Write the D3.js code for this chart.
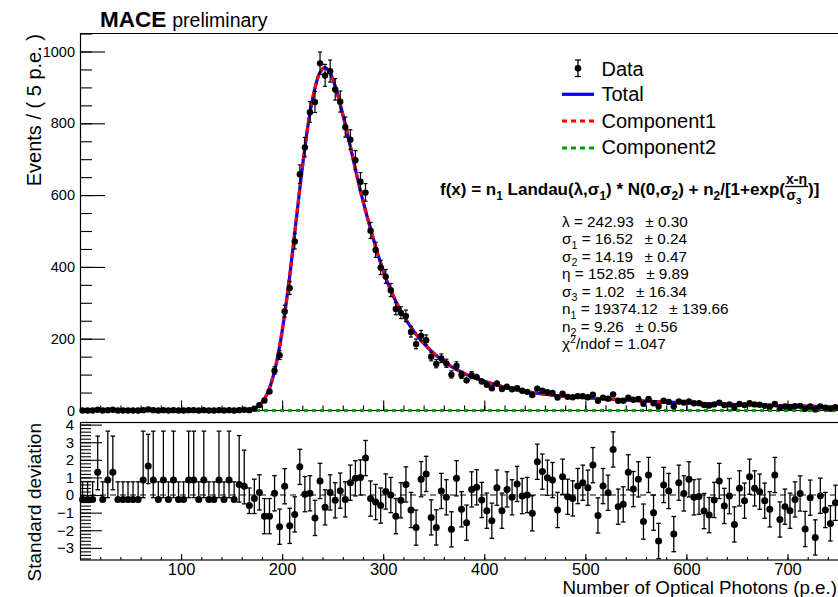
<!DOCTYPE html>
<html><head><meta charset="utf-8">
<script src="https://cdn.jsdelivr.net/npm/d3@7"></script>
<style>
body{margin:0;background:#fff}
svg{display:block}
text{font-family:"Liberation Sans",Arial,Helvetica,sans-serif;fill:#000}
</style>
</head><body>
<svg id="c" width="838" height="597"></svg>
<script>
// ---------------- DATA ----------------
const xMin = 0, xMax = 750, binWidth = 5;
const counts = [0,0,0,2,0,1,2,0,0,0,0,0,1,3,1,0,1,0,1,0,0,1,1,0,1,0,0,1,0,1,0,1,2,
 1,5,15,28,53,111,154,276,341,471,658,733,831,859,967,933,945,894,860,789,754,697,637,607,501,447,398,373,335,283,272,263,219,185,208,196,150,130,
 145,131,100,124,99,84,98,93,81,72,62,75,60,66,59,62,55,52,43,61,55,51,49,36,47,38,37,40,40,37,44,27,36,33,45,27,27,36,30,32,19,32,20,12,27,24,12,25,22,25,20,20,15,14,17,22,15,17,10,18,15,20,17,16,13,11,18,8,11,10,12,13,5,11,3,11,8,5,9];
const pulls = [-0.25,-0.25,-0.25,1.3,-0.25,0.85,1.3,-0.25,-0.25,-0.25,-0.25,-0.25,0.85,1.65,0.85,-0.25,0.85,-0.25,0.85,-0.25,-0.25,0.85,0.85,-0.25,0.85,-0.25,-0.25,0.85,-0.25,0.85,-0.25,0.6,0.5,
 -0.6,-0.2,0.15,-1.2,-1.2,0.1,-1.8,0.5,-1.75,-1.1,1.6,0.05,0.1,-1.3,0.8,-0.7,0.15,-0.3,0.25,-0.25,0.7,0.95,1.0,2.1,-0.2,-0.4,-0.6,0.2,0.0,-1.2,-0.3,0.6,-0.85,-1.85,0.9,1.2,
 -1.27,-1.84,0.23,-0.13,-1.95,0.95,-0.81,-1.57,0.32,0.44,-0.28,-0.89,-1.46,0.42,-0.89,0.32,-0.13,0.63,-0.06,0.0,-1.04,1.89,1.33,0.98,0.85,-0.85,1.04,-0.1,-0.19,0.51,0.70,0.42,1.70,-1.16,0.51,0.13,2.59,-0.66,-0.53,1.29,0.34,0.89,-1.51,1.14,-1.0,-2.61,0.57,0.23,-2.22,0.70,0.09,0.89,-0.13,-0.09,-0.91,-1.14,-0.28,0.80,-0.62,-0.06,-1.67,0.38,-0.32,1.04,0.38,0.19,-0.32,-0.81,1.14,-1.39,-0.66,-0.89,-0.25,0.09,-1.93,-0.15,-2.41,-0.04,-0.85,-1.61,-0.44];
// pull error bars of the low-count bins (the rest are +-1)
const pullErrLoLow = [0,0,0,1,0,1,1,0,0,0,0,0,1,1,1,0,1,0,1,0,0,1,1,0,1,0,0,1,0,1,0,1,1,0.45,0.85];
const pullErrHiLow = [1,1,1,2.05,1,2.78,2.05,1,1,1,1,1,2.78,1.8,2.78,1,2.78,1,2.78,1,1,2.78,2.78,1,2.78,1,1,2.78,1,2.78,1,2.78,2.05,1,1.1];
// fitted total curve, sampled [x, events]
const totalCurve = [[0,0.3],[150,0.3],[152.5,0.3],[157.5,0.6],[162.5,1.2],[167.5,2.5],[172.5,6],
 [177.5,15],[182.5,32],[187.5,62],[192.5,110],[197.5,178],[202.5,268],[207.5,375],[212.5,495],[217.5,618],[222.5,732],
 [227.5,828],[232.5,898],[237.5,942],[242.5,955],[247.5,940],[252.5,903],[257.5,853],[262.5,796],[267.5,735],[272.5,672],
 [277.5,612],[282.5,557],[287.5,505],[292.5,456],[297.5,410],[302.5,369],[307.5,335],[312.5,304],[317.5,277],[322.5,253],
 [327.5,232],[332.5,212],[337.5,195],[342.5,180],[347.5,166],[352.5,153],[357.5,142],[362.5,132],[367.5,122],[372.5,114],
 [377.5,107],[382.5,100],[387.5,95],[392.5,89],[397.5,84],[402.5,79.5],[407.5,75],[412.5,71],[417.5,67],[422.5,63.5],
 [427.5,60.5],[432.5,57.5],[437.5,55],[442.5,52.5],[447.5,50],[452.5,48],[457.5,46],[462.5,44.5],[467.5,43],[472.5,41.5],
 [477.5,40],[482.5,39],[487.5,38],[492.5,37],[497.5,36],[502.5,35],[525,31.5],[550,27.5],[575,24.2],[600,21.2],
 [625,18.8],[650,16.7],[675,14.7],[700,13.0],[725,11.7],[750,10.5]];
// component 2 (Fermi step), sampled [x, events]
const comp2Curve = [[0,0.3],[150,0.3],[152.5,0.15],[155,0],[750,0]];
const xTicks = [100,200,300,400,500,600,700];
const yTopTicks = [0,200,400,600,800,1000];
const yBotTicks = [-3,-2,-1,0,1,2,3,4];
const legendItems = ["Data","Total","Component1","Component2"];
// parameter lines: [text, kind]; "pm" marks the uncertainty part
const params = [
 [["λ",""],[" = 242.93",""],["± 0.30","pm"]],
 [["σ",""],["1","sub"],[" = 16.52",""],["± 0.24","pm"]],
 [["σ",""],["2","sub"],[" = 14.19",""],["± 0.47","pm"]],
 [["η",""],[" = 152.85",""],["± 9.89","pm"]],
 [["σ",""],["3","sub"],[" = 1.02",""],["± 16.34","pm"]],
 [["n",""],["1","sub"],[" = 19374.12",""],["± 139.66","pm"]],
 [["n",""],["2","sub"],[" = 9.26",""],["± 0.56","pm"]],
 [["χ",""],["2","sup"],["/ndof = 1.047",""]]
];

// ---------------- DRAW ----------------
const svg = d3.select("#c");
svg.append("rect").attr("width",838).attr("height",597).attr("fill","#fff");
const x = d3.scaleLinear().domain([xMin,xMax]).range([80,838]);
const yT = d3.scaleLinear().domain([0,1051.5]).range([410.5,33]);
const yB = d3.scaleLinear().domain([-3.69,4.12]).range([560,422.5]);
const centers = counts.map((_,i)=> xMin + binWidth*(i+0.5));
const FONT = '"Liberation Sans",Arial,Helvetica,sans-serif';

function styleAxis(g, fs){
  g.select(".domain").remove();
  g.selectAll(".tick line").attr("stroke","#000").attr("stroke-width",1.1);
  g.selectAll(".tick text").attr("font-size",fs).attr("font-family",FONT).attr("fill","#000");
}
// top panel axes
svg.append("g").attr("transform","translate(80,0)")
  .call(d3.axisLeft(yT).tickValues(d3.range(0,1051,50)).tickSize(-12).tickFormat(""))
  .call(g=>styleAxis(g,14));
svg.append("g").attr("transform","translate(80,0)")
  .call(d3.axisLeft(yT).tickValues(yTopTicks).tickSize(-25).tickPadding(5).tickFormat(d3.format("d")))
  .call(g=>styleAxis(g,14.5));
svg.append("g").attr("transform","translate(0,410.5)")
  .call(d3.axisBottom(x).tickValues(d3.range(20,750,20)).tickSize(-5).tickFormat(""))
  .call(g=>styleAxis(g,14));
svg.append("g").attr("transform","translate(0,410.5)")
  .call(d3.axisBottom(x).tickValues(xTicks).tickSize(-10).tickFormat(""))
  .call(g=>styleAxis(g,14));
svg.append("path").attr("d","M80.5,410.5V33.5H838").attr("fill","none").attr("stroke","#000").attr("stroke-width",1.2);
svg.append("line").attr("x1",80).attr("x2",838).attr("y1",410.5).attr("y2",410.5).attr("stroke","#000").attr("stroke-width",1.2);

// bottom panel axes
svg.append("g").attr("transform","translate(80,0)")
  .call(d3.axisLeft(yB).tickValues(d3.range(-3.6,4.11,0.2).map(v=>+v.toFixed(1))).tickSize(-11).tickFormat(""))
  .call(g=>styleAxis(g,14));
svg.append("g").attr("transform","translate(80,0)")
  .call(d3.axisLeft(yB).tickValues(yBotTicks).tickSize(-22).tickPadding(6).tickFormat(d=> d<0 ? "\u2212"+(-d) : d))
  .call(g=>styleAxis(g,15));
svg.append("g").attr("transform","translate(0,560)")
  .call(d3.axisBottom(x).tickValues(d3.range(20,750,20)).tickSize(-3).tickFormat(""))
  .call(g=>styleAxis(g,16));
svg.append("g").attr("transform","translate(0,560)")
  .call(d3.axisBottom(x).tickValues(xTicks).tickSize(-6).tickPadding(3).tickFormat(d3.format("d")))
  .call(g=>styleAxis(g,16.5));
svg.append("rect").attr("x",80.5).attr("y",422.5).attr("width",760).attr("height",137.5)
  .attr("fill","none").attr("stroke","#000").attr("stroke-width",1.2);
svg.append("line").attr("x1",80).attr("x2",838).attr("y1",yB(0)).attr("y2",yB(0))
  .attr("stroke","#000").attr("stroke-width",1.1).attr("stroke-dasharray","6,4");

// curves
const interp = (arr, xv) => {
  for (let i=1;i<arr.length;i++){ if (xv<=arr[i][0]) { const [x0,y0]=arr[i-1],[x1,y1]=arr[i]; return y0+(y1-y0)*(xv-x0)/(x1-x0);} }
  return arr[arr.length-1][1];
};
const comp1Curve = totalCurve.map(([cx,cy])=>[cx, Math.max(0, cy - interp(comp2Curve,cx))]);
const line = d3.line().x(d=>x(d[0])).y(d=>yT(d[1])).curve(d3.curveCatmullRom.alpha(0.5));
const lineLin = d3.line().x(d=>x(d[0])).y(d=>yT(d[1]));
svg.append("path").attr("d",line(totalCurve)).attr("fill","none").attr("stroke","#0000ff").attr("stroke-width",3.2);
svg.append("path").attr("d",line(comp1Curve)).attr("fill","none").attr("stroke","#ff0000").attr("stroke-width",3.2).attr("stroke-dasharray","5,4");
svg.append("path").attr("d",lineLin(comp2Curve)).attr("fill","none").attr("stroke","#00a000").attr("stroke-width",3).attr("stroke-dasharray","4,4");

// data points (top)
const dataG = svg.append("g");
counts.forEach((n,i)=>{
  const cx = x(centers[i]);
  const hi = n===0 ? 1.84 : Math.sqrt(n+0.25)+0.5;
  const lo = n===0 ? 0 : Math.sqrt(n+0.25)-0.5;
  const y1 = yT(n+hi), y0 = yT(n-lo);
  dataG.append("line").attr("x1",cx).attr("x2",cx).attr("y1",y1).attr("y2",y0).attr("stroke","#000").attr("stroke-width",1.2);
  if (y0-y1 > 7) {
    dataG.append("line").attr("x1",cx-2).attr("x2",cx+2).attr("y1",y1).attr("y2",y1).attr("stroke","#000").attr("stroke-width",1.2);
    dataG.append("line").attr("x1",cx-2).attr("x2",cx+2).attr("y1",y0).attr("y2",y0).attr("stroke","#000").attr("stroke-width",1.2);
  }
  dataG.append("circle").attr("cx",cx).attr("cy",yT(n)).attr("r",3.2).attr("fill","#000");
});

// pulls (bottom)
const pullG = svg.append("g");
pulls.forEach((p,i)=>{
  const cx = x(centers[i]);
  const lo = i<pullErrLoLow.length ? pullErrLoLow[i] : 1;
  const hi = i<pullErrHiLow.length ? pullErrHiLow[i] : 1;
  const y1 = yB(p+hi), y0 = yB(p-lo);
  pullG.append("line").attr("x1",cx).attr("x2",cx).attr("y1",y1).attr("y2",y0).attr("stroke","#000").attr("stroke-width",1.3);
  pullG.append("line").attr("x1",cx-2.3).attr("x2",cx+2.3).attr("y1",y1).attr("y2",y1).attr("stroke","#000").attr("stroke-width",1.3);
  if (lo>0) pullG.append("line").attr("x1",cx-2.3).attr("x2",cx+2.3).attr("y1",y0).attr("y2",y0).attr("stroke","#000").attr("stroke-width",1.3);
  pullG.append("circle").attr("cx",cx).attr("cy",yB(p)).attr("r",3.5).attr("fill","#000");
});

// title
const title = svg.append("text").attr("x",100).attr("y",27);
title.append("tspan").attr("font-weight","bold").attr("font-size",22.5).text("MACE");
title.append("tspan").attr("font-size",19.5).attr("dx",6).text("preliminary");

// axis titles
svg.append("text").attr("transform","translate(41,34) rotate(-90)").attr("text-anchor","end")
  .attr("font-size",20).text("Events / ( 5 p.e. )");
svg.append("text").attr("transform","translate(41,423) rotate(-90)").attr("text-anchor","end")
  .attr("font-size",19).text("Standard deviation");
svg.append("text").attr("x",837).attr("y",593.5).attr("text-anchor","end")
  .attr("font-size",18.8).text("Number of Optical Photons (p.e.)");

// legend
const lg = svg.append("g");
const legY = [68.3, 94.3, 121, 148];
const legBase = [75.7, 101.3, 127.7, 154.3];
lg.append("line").attr("x1",578).attr("x2",578).attr("y1",60).attr("y2",76.5).attr("stroke","#000").attr("stroke-width",1.3);
lg.append("line").attr("x1",575).attr("x2",581).attr("y1",60).attr("y2",60).attr("stroke","#000").attr("stroke-width",1.3);
lg.append("line").attr("x1",575).attr("x2",581).attr("y1",76.5).attr("y2",76.5).attr("stroke","#000").attr("stroke-width",1.3);
lg.append("circle").attr("cx",578).attr("cy",legY[0]).attr("r",3.3).attr("fill","#000");
lg.append("line").attr("x1",562).attr("x2",594).attr("y1",legY[1]).attr("y2",legY[1]).attr("stroke","#0000ff").attr("stroke-width",3.2);
lg.append("line").attr("x1",562).attr("x2",594).attr("y1",legY[2]).attr("y2",legY[2]).attr("stroke","#ff0000").attr("stroke-width",3.2).attr("stroke-dasharray","5,4");
lg.append("line").attr("x1",562).attr("x2",594).attr("y1",legY[3]).attr("y2",legY[3]).attr("stroke","#00a000").attr("stroke-width",3.2).attr("stroke-dasharray","5,4");
legendItems.forEach((t,i)=> lg.append("text").attr("x",601.5).attr("y",legBase[i]).attr("font-size",20).text(t));

// rich text: one <text> per line, tspans with absolute baselines
function richText(g, x0, y0, pieces, baseSize, weight){
  const t = g.append("text").attr("x",x0).attr("y",y0).attr("font-size",baseSize).attr("font-weight",weight);
  pieces.forEach(([s,kind])=>{
    const sp = t.append("tspan").text(s);
    if (kind==="sub") sp.attr("font-size",baseSize*0.7).attr("y",y0+baseSize*0.3);
    else if (kind==="sup") sp.attr("font-size",baseSize*0.7).attr("y",y0-baseSize*0.38);
    else sp.attr("y",y0);
    if (kind==="pm") sp.attr("dx",baseSize*0.75);
  });
  return t;
}
const fg = svg.append("g");
const fPieces = [["f(x) = n",""],["1","sub"],[" Landau(λ,σ",""],["1","sub"],[") * N(0,σ",""],["2","sub"],
  [") + n",""],["2","sub"],["/[1+exp(",""]];
const fMain = richText(fg, 440, 195, fPieces, 17, "bold");
const fx = 440 + fMain.node().getComputedTextLength();
const num = richText(fg, fx+1, 183.5, [["x-η",""]], 14, "bold");
const den = richText(fg, fx+1.5, 199.5, [["σ",""],["3","sub"]], 14, "bold");
const fracEnd = fx + Math.max(num.node().getComputedTextLength()+1, den.node().getComputedTextLength()+1.5) + 1;
fg.append("line").attr("x1",fx).attr("x2",fracEnd).attr("y1",186.5).attr("y2",186.5).attr("stroke","#000").attr("stroke-width",1.3);
richText(fg, fracEnd, 195, [[")]",""]], 17, "bold");

// parameters
const pg = svg.append("g");
params.forEach((pcs,i)=> richText(pg, 562, 226.5 + i*17.5, pcs, 15.3, "normal"));
</script>
</body></html>
